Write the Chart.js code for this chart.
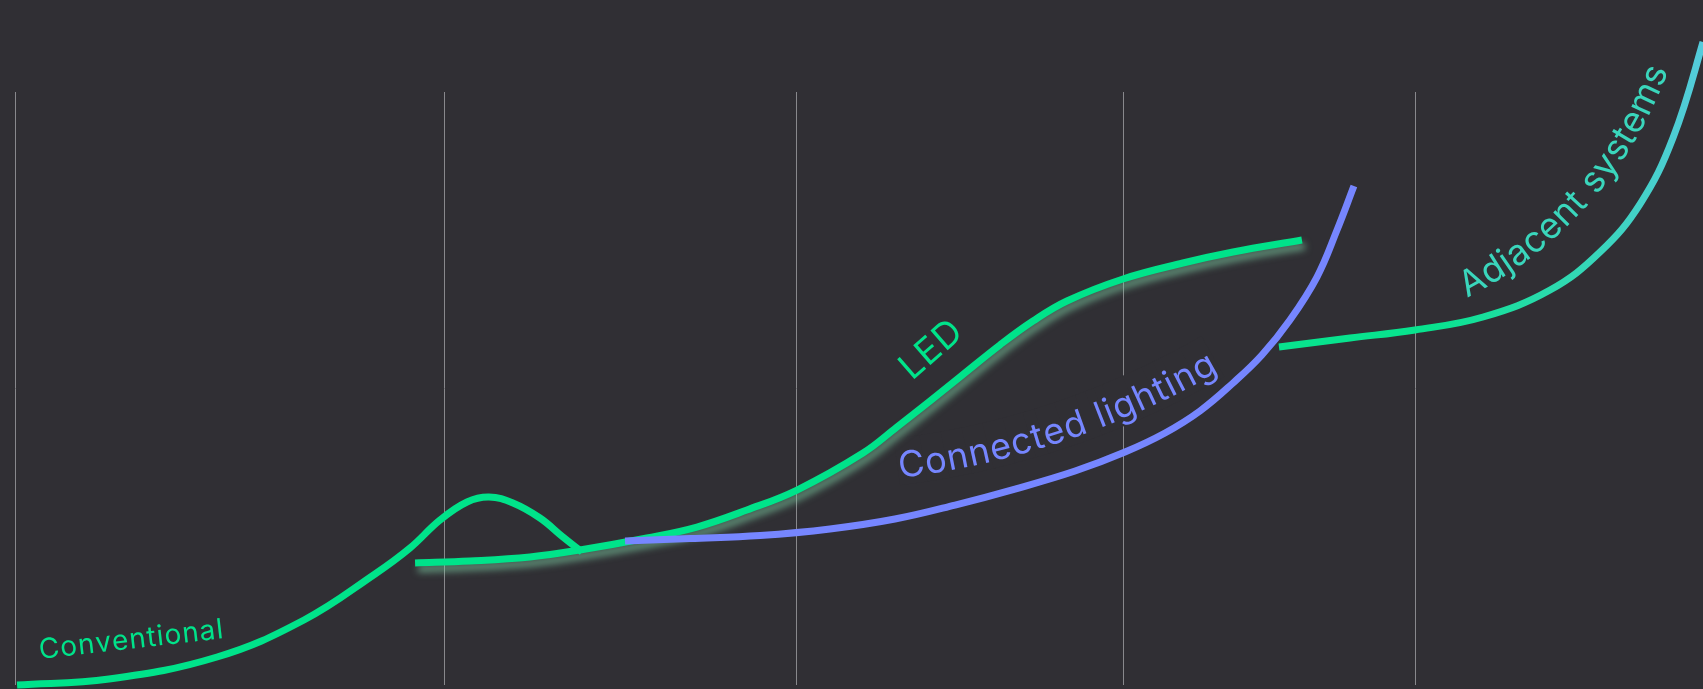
<!DOCTYPE html>
<html>
<head>
<meta charset="utf-8">
<script src="https://cdn.jsdelivr.net/npm/chart.js@4.4.1/dist/chart.umd.min.js"></script>
<style>
  html, body { margin: 0; padding: 0; background: #302f34; }
  #wrap { width: 1703px; height: 689px; }
</style>
</head>
<body>
<div id="wrap"><canvas id="chart"></canvas></div>
<script>
const BG = '#302f34';

// vertical phase dividers (x units)
const phaseBounds = [0, 25.47, 46.27, 65.64, 82.94];

const conventionalX = [0.12, 5.57, 11.97, 17.12, 21.33, 23.4, 25.18, 26.78, 28.08, 29.5, 31.1, 32.46, 33.59];
const conventionalY = [0, 1.01, 4.72, 10.96, 18.72, 23.1, 27.82, 30.86, 31.7, 30.69, 28.16, 24.96, 22.43];

const ledX = [23.7, 26.96, 30.51, 33.47, 37.44, 40.4, 43.36, 46.33, 50.24, 52.25, 54.21, 55.98, 58.35, 60.31, 62.32, 65.64, 69.19, 72.16, 76.24];
const ledY = [20.57, 20.91, 21.59, 22.77, 24.79, 26.64, 29.51, 32.88, 39.12, 43.51, 47.9, 51.94, 57.34, 61.38, 64.76, 68.47, 71.16, 73.02, 75.04];

const connectedX = [36.14, 39.99, 44.14, 48.28, 52.13, 55.69, 59.24, 62.8, 65.76, 68.13, 70.2, 72.16, 73.87, 75.53, 77.13, 78.32, 79.32];
const connectedY = [24.28, 24.7, 25.21, 26.31, 27.99, 30.35, 33.05, 36.09, 39.29, 42.5, 46.21, 50.93, 55.65, 61.55, 68.8, 76.73, 84.15];

const adjacentX = [74.88, 79.09, 82.94, 86.97, 90.94, 93.9, 96.27, 98.22, 100, 100.89];
const adjacentY = [57.0, 58.52, 59.87, 62.06, 66.61, 73.02, 81.11, 92.24, 108.43, 118.21];

const GREEN = '#00e38a';
const BLUE = '#7686ff';
const TEAL = '#3ad6bc';

const pts = (xs, ys) => xs.map((x, i) => ({ x, y: ys[i] }));

// curved series labels: anchor is the baseline start, text bends from a0 to a1 degrees
const seriesLabels = [
  { text: 'Conventional', x: 1.48, y: 4.38, a0: -6.5, a1: -6.5, size: 28, spacing: 1, color: GREEN },
  { text: 'LED', x: 53.14, y: 51.26, a0: -41, a1: -41, size: 36, spacing: 1, color: GREEN },
  { text: 'Connected lighting', x: 52.43, y: 34.91, a0: -7, a1: -30, size: 36, spacing: 1, color: BLUE, knockout: true },
  { text: 'Adjacent systems', x: 86.02, y: 65.26, a0: -27, a1: -70, size: 36, spacing: 0.6, color: TEAL }
];

function walkArcText(ctx, lbl, x0, y0, cb) {
  ctx.font = `400 ${lbl.size}px Inter, "Noto Sans", sans-serif`;
  const chars = [...lbl.text];
  const widths = chars.map(ch => ctx.measureText(ch).width + lbl.spacing);
  const total = widths.reduce((a, b) => a + b, 0);
  const a0 = lbl.a0 * Math.PI / 180;
  const k = (lbl.a1 - lbl.a0) * Math.PI / 180 / total;
  let x = x0, y = y0, s = 0;
  chars.forEach((ch, i) => {
    const w = widths[i];
    const a = a0 + k * (s + w / 2);
    ctx.save();
    ctx.translate(x, y);
    ctx.rotate(a);
    cb(ch, w);
    ctx.restore();
    x += w * Math.cos(a);
    y += w * Math.sin(a);
    s += w;
  });
}

const labelPlugin = {
  id: 'seriesLabels',
  beforeDatasetsDraw(chart) {
    // clear the grid behind labels that sit over a divider
    const { ctx, scales } = chart;
    ctx.save();
    seriesLabels.filter(l => l.knockout).forEach(l => {
      walkArcText(ctx, l, scales.x.getPixelForValue(l.x), scales.y.getPixelForValue(l.y), (ch, w) => {
        ctx.fillStyle = BG;
        ctx.fillRect(-1, -l.size * 1.1, w + 2, l.size * 1.3);
      });
    });
    ctx.restore();
  },
  afterDatasetsDraw(chart) {
    const { ctx, scales } = chart;
    ctx.save();
    ctx.textBaseline = 'alphabetic';
    seriesLabels.forEach(l => {
      walkArcText(ctx, l, scales.x.getPixelForValue(l.x), scales.y.getPixelForValue(l.y), (ch) => {
        ctx.fillStyle = l.color;
        ctx.fillText(ch, 0, 0);
      });
    });
    ctx.restore();
  }
};

const glowPlugin = {
  id: 'glow',
  beforeDatasetDraw(chart, args) {
    const ds = chart.data.datasets[args.index];
    if (!ds.glow) return;
    const c = chart.ctx;
    c.save();
    c.shadowColor = ds.glow;
    c.shadowBlur = 7;
    c.shadowOffsetX = 3;
    c.shadowOffsetY = 6;
  },
  afterDatasetDraw(chart, args) {
    if (chart.data.datasets[args.index].glow) chart.ctx.restore();
  }
};

function adjacentGradient(context) {
  const chart = context.chart;
  if (!chart.chartArea) return GREEN;
  const x = chart.scales.x;
  const g = chart.ctx.createLinearGradient(x.getPixelForValue(84), 0, x.getPixelForValue(100), 0);
  g.addColorStop(0, '#08e38e');
  g.addColorStop(0.5, '#30d9b2');
  g.addColorStop(1, '#55cbdc');
  return g;
}

const lineBase = {
  borderWidth: 7,
  pointRadius: 0,
  fill: false,
  clip: false,
  tension: 0.4,
  capBezierPoints: false,
  borderCapStyle: 'butt'
};

new Chart(document.getElementById('chart'), {
  type: 'line',
  data: {
    datasets: [
      { ...lineBase, label: 'Connected lighting', data: pts(connectedX, connectedY), borderColor: BLUE },
      { ...lineBase, label: 'Conventional', data: pts(conventionalX, conventionalY), borderColor: GREEN },
      { ...lineBase, label: 'LED', data: pts(ledX, ledY), borderColor: GREEN, glow: 'rgba(130, 215, 170, 0.6)' },
      { ...lineBase, label: 'Adjacent systems', data: pts(adjacentX, adjacentY), borderColor: adjacentGradient }
    ]
  },
  options: {
    responsive: true,
    maintainAspectRatio: false,
    animation: false,
    layout: { padding: { left: 15, right: 0, top: 92, bottom: 4 } },
    plugins: { legend: { display: false }, tooltip: { enabled: false } },
    scales: {
      x: {
        type: 'linear',
        min: 0,
        max: 100,
        afterBuildTicks: (scale) => { scale.ticks = phaseBounds.map(v => ({ value: v })); },
        ticks: { display: false },
        grid: { color: '#88888c', lineWidth: 1, drawTicks: false },
        border: { display: false }
      },
      y: { min: 0, max: 100, display: false }
    }
  },
  plugins: [glowPlugin, labelPlugin]
});
</script>
</body>
</html>
